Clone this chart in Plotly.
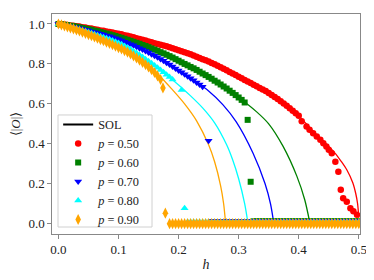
import plotly.graph_objects as go

# ---------------- data ----------------
H2 = [round(0.005 * i, 3) for i in range(101)]   # h grid used by the simulations

# p = 0.50 markers
p50_h = H2[:81] + [0.405, 0.413, 0.418, 0.424, 0.430, 0.436, 0.441, 0.446, 0.450,
                   0.455, 0.461, 0.466, 0.470, 0.474, 0.480, 0.486, 0.491, 0.497]
p50_v = [1.000, 0.999, 0.997, 0.995, 0.993, 0.991, 0.989, 0.987, 0.984, 0.982,
         0.979, 0.977, 0.974, 0.971, 0.968, 0.966, 0.963, 0.960, 0.957, 0.954,
         0.951, 0.948, 0.944, 0.941, 0.937, 0.933, 0.929, 0.925, 0.921, 0.917,
         0.912, 0.908, 0.904, 0.900, 0.896, 0.892, 0.888, 0.884, 0.879, 0.874,
         0.869, 0.864, 0.859, 0.854, 0.848, 0.842, 0.836, 0.830, 0.824, 0.818,
         0.812, 0.805, 0.798, 0.791, 0.783, 0.776, 0.768, 0.760, 0.752, 0.744,
         0.736, 0.728, 0.720, 0.712, 0.704, 0.696, 0.688, 0.680, 0.672, 0.664,
         0.655, 0.645, 0.635, 0.624, 0.613, 0.602, 0.590, 0.578, 0.566, 0.553,
         0.540,
         0.513, 0.487, 0.470, 0.453, 0.437, 0.420, 0.403, 0.387, 0.370,
         0.353, 0.310, 0.260, 0.170, 0.128, 0.110, 0.078, 0.062, 0.045]

# p = 0.60 markers
p60_h = H2[:63] + [0.315, 0.320] + H2[65:]
p60_v = [1.000, 0.998, 0.996, 0.994, 0.991, 0.989, 0.986, 0.983, 0.980, 0.977,
         0.974, 0.971, 0.967, 0.964, 0.960, 0.956, 0.952, 0.948, 0.944, 0.940,
         0.935, 0.931, 0.926, 0.921, 0.916, 0.911, 0.906, 0.901, 0.895, 0.890,
         0.884, 0.878, 0.872, 0.866, 0.859, 0.853, 0.846, 0.839, 0.832, 0.824,
         0.816, 0.808, 0.800, 0.793, 0.785, 0.778, 0.770, 0.761, 0.752, 0.744,
         0.735, 0.726, 0.716, 0.707, 0.697, 0.687, 0.677, 0.666, 0.655, 0.644,
         0.632, 0.620, 0.607,
         0.520, 0.210] + [0.012] * 36

# p = 0.70 markers
p70_h = H2[:49] + [0.250] + H2[51:]
p70_v = [1.000, 0.998, 0.995, 0.992, 0.989, 0.986, 0.982, 0.979, 0.975, 0.971,
         0.967, 0.963, 0.959, 0.955, 0.951, 0.947, 0.942, 0.938, 0.933, 0.928,
         0.923, 0.917, 0.911, 0.905, 0.899, 0.893, 0.886, 0.879, 0.872, 0.865,
         0.857, 0.849, 0.841, 0.833, 0.825, 0.816, 0.806, 0.797, 0.787, 0.777,
         0.767, 0.758, 0.748, 0.738, 0.728, 0.718, 0.707, 0.697, 0.686,
         0.415] + [0.015] * 50

# p = 0.80 markers
p80_h = H2[:39] + [0.205, 0.210] + H2[43:]
p80_v = [1.000, 0.997, 0.993, 0.989, 0.985, 0.981, 0.977, 0.973, 0.968, 0.964,
         0.959, 0.954, 0.949, 0.944, 0.939, 0.934, 0.928, 0.923, 0.917, 0.911,
         0.905, 0.898, 0.890, 0.882, 0.873, 0.864, 0.855, 0.845, 0.835, 0.824,
         0.813, 0.803, 0.792, 0.781, 0.770, 0.758, 0.746, 0.734, 0.722,
         0.670, 0.078] + [0.008] * 58

# p = 0.90 markers
p90_h = H2[:35] + [0.174, 0.178] + H2[37:]
p90_v = [1.000, 0.996, 0.991, 0.986, 0.981, 0.976, 0.970, 0.965, 0.959, 0.953,
         0.947, 0.941, 0.935, 0.929, 0.922, 0.916, 0.909, 0.903, 0.896, 0.889,
         0.882, 0.875, 0.867, 0.859, 0.850, 0.840, 0.830, 0.819, 0.808, 0.797,
         0.785, 0.771, 0.757, 0.740, 0.722,
         0.680, 0.053] + [0.000] * 64

# SOL curves (critical part); flat tail afterwards
sol50_h = [0.0, 0.05, 0.10, 0.15, 0.20, 0.25, 0.30, 0.35, 0.40, 0.42, 0.44, 0.46,
           0.47, 0.48, 0.49, 0.495, 0.498, 0.500]
sol50_v = [1.0, 0.979, 0.951, 0.912, 0.869, 0.812, 0.736, 0.655, 0.540, 0.475,
           0.415, 0.355, 0.315, 0.270, 0.205, 0.150, 0.100, 0.030]

sol60_h = [0.0, 0.05, 0.10, 0.15, 0.20, 0.25, 0.30, 0.33, 0.35, 0.374, 0.397,
           0.41, 0.418]
sol60_v = [1.0, 0.974, 0.935, 0.884, 0.816, 0.735, 0.632, 0.560, 0.500, 0.387,
           0.237, 0.120, 0.012]

sol70_h = [0.0, 0.05, 0.10, 0.15, 0.20, 0.25, 0.274, 0.296, 0.324, 0.344, 0.353,
           0.358]
sol70_v = [1.0, 0.967, 0.923, 0.857, 0.767, 0.665, 0.595, 0.510, 0.353, 0.200,
           0.100, 0.012]

sol80_h = [0.0, 0.05, 0.10, 0.15, 0.20, 0.22, 0.24, 0.26, 0.28, 0.29, 0.30, 0.31,
           0.315]
sol80_v = [1.0, 0.959, 0.905, 0.813, 0.695, 0.640, 0.580, 0.505, 0.395, 0.320,
           0.225, 0.100, 0.012]

sol90_h = [0.0, 0.05, 0.10, 0.15, 0.17, 0.19, 0.21, 0.23, 0.25, 0.26, 0.27,
           0.275, 0.278]
sol90_v = [1.0, 0.947, 0.882, 0.785, 0.735, 0.670, 0.600, 0.515, 0.395, 0.310,
           0.190, 0.100, 0.012]

tail_v = 0.012
h_end = 0.5

series = [
    ("<i>p</i> = 0.50", "#ff0000", "circle", 6.5, p50_h, p50_v, sol50_h, sol50_v),
    ("<i>p</i> = 0.60", "#008000", "square", 6, p60_h, p60_v, sol60_h, sol60_v),
    ("<i>p</i> = 0.70", "#0000ff", "triangle-down", 7, p70_h, p70_v, sol70_h, sol70_v),
    ("<i>p</i> = 0.80", "#00ffff", "triangle-up", 7, p80_h, p80_v, sol80_h, sol80_v),
    ("<i>p</i> = 0.90", "#ffa500", "diamond-tall", 8, p90_h, p90_v, sol90_h, sol90_v),
]

SERIF = "Liberation Serif, Times New Roman, serif"

fig = go.Figure()

# legend entry for SOL
fig.add_trace(go.Scatter(x=[None], y=[None], mode="lines", name="SOL",
                         line=dict(color="black", width=2)))

# SOL lines
for name, col, sym, sz, mh, mv, sh, sv in series:
    fig.add_trace(go.Scatter(x=sh, y=sv, mode="lines", showlegend=False,
                             line=dict(color=col, width=1.3, shape="spline",
                                       smoothing=0.8),
                             hoverinfo="skip"))
    if sh[-1] < h_end:
        fig.add_trace(go.Scatter(x=[sh[-1], h_end], y=[tail_v, tail_v], mode="lines",
                                 showlegend=False, line=dict(color=col, width=1.3),
                                 hoverinfo="skip"))

# markers
for name, col, sym, sz, mh, mv, sh, sv in series:
    fig.add_trace(go.Scatter(x=mh, y=mv, mode="markers", name=name,
                             marker=dict(color=col, symbol=sym, size=sz,
                                         line=dict(width=0))))

axis_common = dict(showline=True, mirror=True, linecolor="#888888", linewidth=1.2,
                   ticks="outside", ticklen=3.5, tickcolor="#888888", tickwidth=1,
                   showgrid=False, zeroline=False, automargin=False,
                   tickfont=dict(family=SERIF, size=13, color="#222222"))

# legend frame (drawn as a shape so it can be tighter than plotly's own box)
fig.add_shape(type="rect", xref="paper", yref="paper",
              x0=0.0195, x1=0.3247, y0=0.0318, y1=0.541,
              fillcolor="rgba(255,255,255,0.85)",
              line=dict(color="#d0d0d0", width=1), layer="above")

# the page body adds an 8px offset, so the figure is 8px smaller than the window
fig.update_layout(
    width=366, height=272,
    margin=dict(l=44, r=14, t=6, b=46),
    paper_bgcolor="white", plot_bgcolor="white",
    xaxis=dict(range=[-0.0107, 0.502], tickvals=[0, 0.1, 0.2, 0.3, 0.4, 0.5],
               tickformat=".1f",
               title=dict(text="<i>h</i>", standoff=2,
                          font=dict(family=SERIF, size=14, color="#222222")),
               **axis_common),
    yaxis=dict(range=[-0.0515, 1.05], tickvals=[0, 0.2, 0.4, 0.6, 0.8, 1.0],
               tickformat=".1f",
               title=dict(text="⟨|<i>O</i>|⟩", standoff=6,
                          font=dict(family=SERIF, size=13, color="#222222")),
               **axis_common),
    legend=dict(x=0.02, y=0.0, xanchor="left", yanchor="bottom",
                bgcolor="rgba(0,0,0,0)", borderwidth=0,
                font=dict(family=SERIF, size=12.3, color="#222222"),
                tracegroupgap=0, itemwidth=30),
    showlegend=True,
)

fig.write_html("out.html")
